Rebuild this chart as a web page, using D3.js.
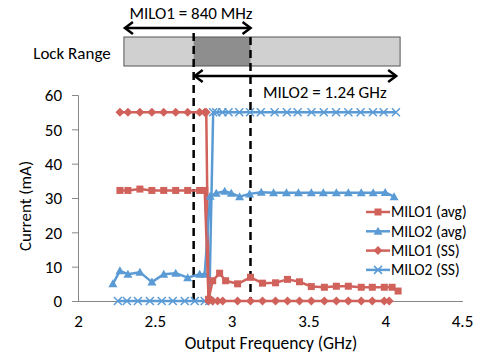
<!DOCTYPE html>
<html><head><meta charset="utf-8">
<script src="https://cdn.jsdelivr.net/npm/d3@7"></script>
<style>
body{margin:0;background:#fff;}
text{font-family:Carlito,Calibri,"Liberation Sans",Arial,sans-serif;fill:#000;}
</style></head><body>
<svg id="c" width="484" height="356"></svg>
<script>
// ---- data ----
const m1AvgF = [2.273,2.325,2.403,2.481,2.558,2.636,2.714,2.792,2.825,2.850,2.877,2.922,2.961,3.039,3.123,3.201,3.286,3.364,3.442,3.519,3.604,3.682,3.760,3.844,3.916,3.994,4.045,4.084];
const m1AvgV = [32.2,32.2,32.6,32.2,32.2,32.2,32.2,32.2,32.2,0.5,5.9,8.1,5.9,5.0,6.9,5.2,5.3,6.3,5.6,4.2,4.0,4.3,4.3,4.0,4.0,4.0,4.0,2.9];
const m2AvgF = [2.227,2.273,2.325,2.403,2.481,2.558,2.636,2.714,2.792,2.825,2.860,2.900,2.955,2.998,3.052,3.117,3.193,3.273,3.357,3.435,3.519,3.597,3.682,3.760,3.844,3.922,4.000,4.058];
const m2AvgV = [5.0,8.8,7.8,8.4,5.5,7.8,8.1,6.8,7.8,7.8,30.5,31.4,32.0,31.4,30.4,31.2,31.7,31.5,31.5,31.5,31.5,31.5,31.5,31.5,31.5,31.5,31.6,30.4];
const m1SsF = [2.273,2.325,2.403,2.481,2.558,2.636,2.714,2.792,2.825,2.835,2.850,2.877,2.909,2.942,3.039,3.123,3.201,3.286,3.364,3.442,3.519,3.604,3.682,3.760,3.844,3.916,3.994,4.026];
const m1SsV = [55,55,55,55,55,55,55,55,55,55,0,0,0,0,0,0,0,0,0,0,0,0,0,0,0,0,0,0];
const m2SsF = [2.260,2.318,2.390,2.468,2.545,2.617,2.695,2.760,2.825,2.855,2.880,2.900,2.940,2.980,3.050,3.120,3.190,3.280,3.360,3.430,3.520,3.600,3.680,3.760,3.840,3.920,3.990,4.070];
const m2SsV = [0,0,0,0,0,0,0,0,0,0,55,55,55,55,55,55,55,55,55,55,55,55,55,55,55,55,55,55];
const seriesNames = ["MILO1 (avg)","MILO2 (avg)","MILO1 (SS)","MILO2 (SS)"];
const xTicks = [2,2.5,3,3.5,4,4.5];
const yTicks = [0,10,20,30,40,50,60];
const lockBox = [2.299,4.097];
const milo1Range = [2.299,3.130];
const milo2Range = [2.753,4.078];
const overlap = [2.753,3.123];

const red = "#d0625b", blue = "#5b9bd5";
const svg = d3.select("#c");
const x = d3.scaleLinear().domain([2,4.5]).range([78,462]);
const y = d3.scaleLinear().domain([0,60]).range([301,95]);

// axes
const gy = svg.append("g").attr("transform","translate(78,0)")
  .call(d3.axisLeft(y).tickValues(yTicks).tickSize(6).tickPadding(10).tickFormat(d3.format("d")));
gy.select(".domain").attr("stroke","#888").attr("d","M-6,95.5H0.5V301.5");
gy.selectAll(".tick line").attr("stroke","#888");
gy.selectAll(".tick text").style("font-size","17px").attr("dy","0.35em");
const gx = svg.append("g").attr("transform","translate(0,301)")
  .call(d3.axisBottom(x).tickValues(xTicks).tickSize(0).tickPadding(14).tickFormat(d=>String(d)));
gx.select(".domain").attr("stroke","#888").attr("d","M78,0.5H463");
gx.selectAll(".tick text").style("font-size","17px");

svg.append("text").attr("x",271).attr("y",349).attr("text-anchor","middle").style("font-size","17.5px").text("Output Frequency (GHz)");
svg.append("text").attr("transform","translate(31,206) rotate(-90)").attr("text-anchor","middle").style("font-size","17px").text("Current (mA)");

// lock range box
svg.append("rect").attr("x",x(lockBox[0])).attr("y",37).attr("width",x(lockBox[1])-x(lockBox[0])).attr("height",29)
  .attr("fill","#d0d0d0");
svg.append("rect").attr("x",x(overlap[0])).attr("y",37).attr("width",x(overlap[1])-x(overlap[0])).attr("height",29)
  .attr("fill","#8e8e8e");
svg.append("rect").attr("x",x(lockBox[0])).attr("y",37).attr("width",x(lockBox[1])-x(lockBox[0])).attr("height",29)
  .attr("fill","none").attr("stroke","#555").attr("stroke-width",1);
svg.append("text").attr("x",72).attr("y",59).attr("text-anchor","middle").style("font-size","17px").text("Lock Range");

// dashed lines
svg.append("line").attr("x1",x(overlap[0])).attr("x2",x(overlap[0])).attr("y1",33).attr("y2",301)
  .attr("stroke","#000").attr("stroke-width",2.5).attr("stroke-dasharray","8,5");
svg.append("line").attr("x1",x(overlap[1])).attr("x2",x(overlap[1])).attr("y1",37).attr("y2",301)
  .attr("stroke","#000").attr("stroke-width",2.5).attr("stroke-dasharray","8,5");

// arrows
function arrow(x1,x2,yy){
  svg.append("line").attr("x1",x1+1).attr("x2",x2-1).attr("y1",yy).attr("y2",yy).attr("stroke","#000").attr("stroke-width",2.5);
  svg.append("path").attr("d",`M${x1+9},${yy-6}L${x1+1},${yy}L${x1+9},${yy+6}`).attr("fill","none").attr("stroke","#000").attr("stroke-width",2.5);
  svg.append("path").attr("d",`M${x2-9},${yy-6}L${x2-1},${yy}L${x2-9},${yy+6}`).attr("fill","none").attr("stroke","#000").attr("stroke-width",2.5);
}
arrow(x(milo1Range[0]),x(milo1Range[1]),28);
arrow(x(milo2Range[0]),x(milo2Range[1]),76);
svg.append("text").attr("x",191).attr("y",19).attr("text-anchor","middle").style("font-size","17px").text("MILO1 = 840 MHz");
svg.append("text").attr("x",263).attr("y",98).style("font-size","17px").text("MILO2 = 1.24 GHz");

// series
const line = d3.line().x(d=>x(d[0])).y(d=>y(d[1]));
function marker(g,type,color,cx,cy){
  if(type==="square") g.append("rect").attr("x",cx-3.5).attr("y",cy-3.5).attr("width",7).attr("height",7).attr("fill",color);
  else if(type==="tri") g.append("path").attr("d",`M${cx},${cy-4.5}L${cx+4.5},${cy+3.5}L${cx-4.5},${cy+3.5}Z`).attr("fill",color);
  else if(type==="diamond") g.append("path").attr("d",`M${cx},${cy-4.5}L${cx+4.5},${cy}L${cx},${cy+4.5}L${cx-4.5},${cy}Z`).attr("fill",color);
  else if(type==="x") g.append("path").attr("d",`M${cx-4},${cy-4}L${cx+4},${cy+4}M${cx-4},${cy+4}L${cx+4},${cy-4}`).attr("stroke",color).attr("stroke-width",1.5);
}
const series = [
  {f:m2SsF,v:m2SsV,c:blue,m:"x"},
  {f:m1SsF,v:m1SsV,c:red,m:"diamond"},
  {f:m2AvgF,v:m2AvgV,c:blue,m:"tri"},
  {f:m1AvgF,v:m1AvgV,c:red,m:"square"}
];
series.forEach(s=>{
  const pts = s.f.map((f,i)=>[f,s.v[i]]);
  const g = svg.append("g");
  g.append("path").attr("d",line(pts)).attr("fill","none").attr("stroke",s.c).attr("stroke-width",2.5).attr("stroke-linejoin","round");
  pts.forEach(p=>marker(g,s.m,s.c,x(p[0]),y(p[1])));
});

// legend
const legM = ["square","tri","diamond","x"], legC = [red,blue,red,blue];
seriesNames.forEach((n,i)=>{
  const yy = 212 + i*19.3;
  const g = svg.append("g");
  g.append("line").attr("x1",366).attr("x2",390).attr("y1",yy).attr("y2",yy).attr("stroke",legC[i]).attr("stroke-width",2.5);
  marker(g,legM[i],legC[i],378,yy);
  g.append("text").attr("x",391).attr("y",yy).attr("dy","0.35em").style("font-size","15.5px").text(n);
});
</script></body></html>
